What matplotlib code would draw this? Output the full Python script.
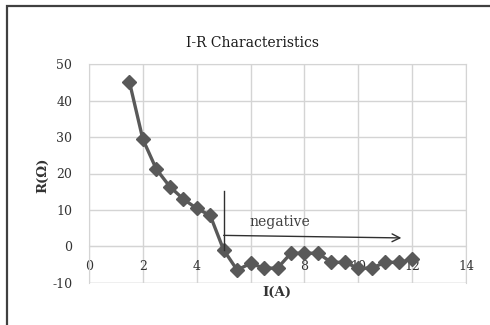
import matplotlib
matplotlib.use("Agg")
import matplotlib.pyplot as plt
from matplotlib.patches import Rectangle

current = [1.5, 2, 2.5, 3, 3.5, 4, 4.5, 5, 5.5, 6, 6.5, 7, 7.5, 8, 8.5, 9, 9.5, 10, 10.5, 11, 11.5, 12]
resistance = [45.2, 29.4, 21.2, 16.4, 13.0, 10.4, 8.5, -1.0, -6.5, -4.7, -6.0, -6.0, -1.9, -1.9, -1.9,
              -4.4, -4.4, -6.0, -6.0, -4.4, -4.4, -3.6]
x_ticks = [0, 2, 4, 6, 8, 10, 12, 14]
y_ticks = [-10, 0, 10, 20, 30, 40, 50]
title = "I-R Characteristics"
x_label = "I(A)"
y_label = "R(Ω)"
note = "negative"

plt.rcParams['font.family'] = ['DejaVu Serif']

fig = plt.figure(figsize=(4.9, 3.25), dpi=100)
# chart-area border (only left/top visible in the crop)
fig.patches.append(Rectangle((7/490, -0.1), 1.2, 1 - 6/325 + 0.1, transform=fig.transFigure,
                             fill=False, edgecolor='#404040', linewidth=1.6))

ax = fig.add_axes([89/490, 1 - 282.7/325, (466 - 89)/490, (282.7 - 64.3)/325])
ax.set_xlim(0, 14)
ax.set_ylim(-10, 50)
ax.set_xticks(x_ticks)
ax.set_yticks(y_ticks)
ax.grid(True, color='#d4d4d4', linewidth=1.0)
ax.set_axisbelow(True)
for s in ['top', 'right', 'left']:
    ax.spines[s].set_color('#d4d4d4')
ax.spines['bottom'].set_position(('data', 0))
ax.spines['bottom'].set_color('#d4d4d4')
ax.axhline(-10, color='#d4d4d4', linewidth=1.0)
ax.tick_params(length=0, labelsize=9, colors='#333333')
ax.tick_params(axis='x', pad=10)
ax.tick_params(axis='y', pad=12)
ax.set_yticklabels([str(v) for v in y_ticks])

ax.plot(current, resistance, color='#595959', linewidth=2.4, marker='D', markersize=7,
        markerfacecolor='#595959', markeredgecolor='#595959', zorder=3)

# annotation
ax.plot([5, 5], [15.3, -1.0], color='#303030', linewidth=1.0, zorder=4)
ax.annotate('', xy=(11.6, 2.3), xytext=(5, 3.0),
            arrowprops=dict(arrowstyle='->', color='#303030', linewidth=1.0,
                            shrinkA=0, shrinkB=0, mutation_scale=14), zorder=4)
ax.text(7.1, 6.8, note, ha='center', va='center', fontsize=10, color='#404040')

fig.text(252/490, 1 - 43/325, title, ha='center', va='center', fontsize=10, color='#1a1a1a')
fig.text(277/490, 1 - 292/325, x_label, ha='center', va='center', fontsize=9.5,
         fontweight='bold', color='#333333')
fig.text(43/490, 1 - 175/325, y_label, ha='center', va='center', fontsize=9.5,
         fontweight='bold', color='#333333', rotation=90)

fig.savefig('out.png', dpi=100)
